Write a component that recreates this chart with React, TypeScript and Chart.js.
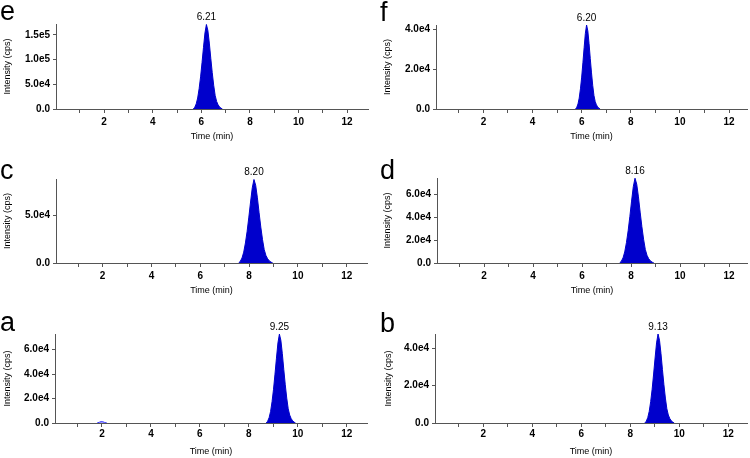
import { useEffect, useRef } from 'react';
import { Chart, registerables } from 'chart.js';

Chart.register(...registerables);

// ---- data ----
const eTime = [5.67, 5.73, 5.79, 5.85, 5.91, 5.97, 6.03, 6.09, 6.15, 6.21, 6.27, 6.33, 6.39, 6.45, 6.51, 6.57, 6.63, 6.69, 6.75, 6.81, 6.87];
const eIntensity = [0, 3400, 10300, 22200, 41000, 65000, 94000, 124800, 153900, 171000, 159000, 133400, 102600, 73500, 47900, 27400, 15400, 8600, 4300, 1700, 0];

const fTime = [5.75, 5.8, 5.85, 5.9, 5.95, 6.0, 6.05, 6.1, 6.15, 6.2, 6.25, 6.3, 6.35, 6.4, 6.45, 6.5, 6.55, 6.6, 6.65, 6.7, 6.75];
const fIntensity = [0, 840, 2520, 5460, 10080, 15960, 23100, 30660, 37800, 42000, 39060, 32760, 25200, 18060, 11760, 6720, 3780, 2100, 1050, 420, 0];

const cTime = [7.57, 7.64, 7.71, 7.78, 7.85, 7.92, 7.99, 8.06, 8.13, 8.2, 8.27, 8.34, 8.41, 8.48, 8.55, 8.62, 8.69, 8.76, 8.83, 8.9, 8.97];
const cIntensity = [0, 1750, 5250, 11400, 21000, 33250, 48100, 63900, 78750, 87500, 81400, 68250, 52500, 37600, 24500, 14000, 7900, 4400, 2200, 900, 0];

const dTime = [7.53, 7.6, 7.67, 7.74, 7.81, 7.88, 7.95, 8.02, 8.09, 8.16, 8.23, 8.3, 8.37, 8.44, 8.51, 8.58, 8.65, 8.72, 8.79, 8.86, 8.93];
const dIntensity = [0, 1480, 4440, 9620, 17760, 28120, 40700, 54020, 66600, 74000, 68820, 57720, 44400, 31820, 20720, 11840, 6660, 3700, 1850, 740, 0];

const aTime = [8.71, 8.77, 8.83, 8.89, 8.95, 9.01, 9.07, 9.13, 9.19, 9.25, 9.31, 9.37, 9.43, 9.49, 9.55, 9.61, 9.67, 9.73, 9.79, 9.85, 9.91];
const aIntensity = [0, 1460, 4370, 9460, 17470, 27660, 40040, 53140, 65520, 72800, 67700, 56780, 43680, 31300, 20380, 11650, 6550, 3640, 1820, 730, 0];
const aMinorTime = [1.8, 1.9, 1.97, 2.03, 2.1, 2.2];
const aMinorIntensity = [0, 700, 1200, 1100, 500, 0];

const bTime = [8.59, 8.65, 8.71, 8.77, 8.83, 8.89, 8.95, 9.01, 9.07, 9.13, 9.19, 9.25, 9.31, 9.37, 9.43, 9.49, 9.55, 9.61, 9.67, 9.73, 9.79];
const bIntensity = [0, 950, 2860, 6200, 11450, 18130, 26240, 34820, 42930, 47700, 44360, 37210, 28620, 20510, 13360, 7630, 4290, 2390, 1190, 480, 0];

const panelLetters = ['e', 'f', 'c', 'd', 'a', 'b'];
const peakLabels = ['6.21', '6.20', '8.20', '8.16', '9.25', '9.13'];
const peakTimes = [6.21, 6.2, 8.2, 8.16, 9.25, 9.13];
const peakHeights = [171000, 42000, 87500, 74000, 72800, 47700];
const yMaxValues = [172000, 42000, 88000, 74200, 72900, 47700];
const yTickValues = [
  [0, 50000, 100000, 150000],
  [0, 20000, 40000],
  [0, 50000],
  [0, 20000, 40000, 60000],
  [0, 20000, 40000, 60000],
  [0, 20000, 40000],
];
const xTickValues = [1, 2, 3, 4, 5, 6, 7, 8, 9, 10, 11, 12];
const xTickLabels = ['', '2', '', '4', '', '6', '', '8', '', '10', '', '12'];

const FONT = '"Liberation Sans", Arial, Helvetica, sans-serif';
const BLUE = '#0000CC';
const AXIS = '#555555';

type Layout = {
  left: number; top: number; width: number; height: number;
  yAxisWidth: number; padTop: number; padRight: number; xAxisHeight: number;
  xMin: number; xMax: number; yTitlePad: number; xTickPad: number; xTitlePad: number;
  letterX: number; letterY: number;
};

const layouts: Layout[] = [
  { left: 0, top: 0, width: 375, height: 153, yAxisWidth: 56, padTop: 24, padRight: 7, xAxisHeight: 44, xMin: 0.02, xMax: 12.86, yTitlePad: 1.9, xTickPad: 3, xTitlePad: 10.6, letterX: 0, letterY: 20 },
  { left: 375, top: 0, width: 375, height: 153, yAxisWidth: 61, padTop: 25, padRight: 3, xAxisHeight: 44, xMin: 0.07, xMax: 12.73, yTitlePad: 7.3, xTickPad: 3, xTitlePad: 10.6, letterX: 5, letterY: 21 },
  { left: 0, top: 153, width: 375, height: 153, yAxisWidth: 56, padTop: 26, padRight: 8, xAxisHeight: 43, xMin: 0.09, xMax: 12.83, yTitlePad: 1.9, xTickPad: 3, xTitlePad: 9.9, letterX: 0, letterY: 26 },
  { left: 375, top: 153, width: 375, height: 153, yAxisWidth: 62, padTop: 25, padRight: 3, xAxisHeight: 43, xMin: 0.08, xMax: 12.73, yTitlePad: 7.3, xTickPad: 3, xTitlePad: 9.9, letterX: 5, letterY: 26 },
  { left: 0, top: 306, width: 375, height: 152, yAxisWidth: 55, padTop: 28, padRight: 8, xAxisHeight: 35, xMin: 0.08, xMax: 12.83, yTitlePad: 1.9, xTickPad: 1, xTitlePad: 0.9, letterX: 0, letterY: 25 },
  { left: 375, top: 306, width: 375, height: 152, yAxisWidth: 60, padTop: 28, padRight: 3, xAxisHeight: 35, xMin: 0.03, xMax: 12.76, yTitlePad: 7.9, xTickPad: 1, xTitlePad: 0.9, letterX: 5, letterY: 26 },
];

const series: { time: number[]; intensity: number[] }[][] = [
  [{ time: eTime, intensity: eIntensity }],
  [{ time: fTime, intensity: fIntensity }],
  [{ time: cTime, intensity: cIntensity }],
  [{ time: dTime, intensity: dIntensity }],
  [{ time: aTime, intensity: aIntensity }, { time: aMinorTime, intensity: aMinorIntensity }],
  [{ time: bTime, intensity: bIntensity }],
];

const textPlugin = {
  id: 'panelText',
  afterDraw(chart: any, _args: any, opts: any) {
    const { ctx } = chart;
    ctx.save();
    ctx.fillStyle = '#000';
    ctx.textBaseline = 'alphabetic';
    ctx.textAlign = 'left';
    ctx.font = `27px ${FONT}`;
    ctx.fillText(opts.letter, opts.letterX, opts.letterY);
    const xs = chart.scales.x;
    const ys = chart.scales.y;
    ctx.font = `10px ${FONT}`;
    ctx.textAlign = 'center';
    ctx.fillText(opts.peakLabel, xs.getPixelForValue(opts.peakTime), ys.getPixelForValue(opts.peakHeight) - 4);
    ctx.restore();
  },
};

function fmtY(v: number) {
  if (v === 0) return '0.0';
  return v.toExponential(1).replace('e+', 'e');
}

function Panel({ index }: { index: number }) {
  const ref = useRef<HTMLCanvasElement | null>(null);
  const L = layouts[index];
  useEffect(() => {
    if (!ref.current) return;
    const datasets = series[index].map((s, i) => ({
      data: s.time.map((t, j) => ({ x: t, y: s.intensity[j] })),
      borderColor: i === 0 ? BLUE : '#3a3aff',
      backgroundColor: i === 0 ? BLUE : 'rgba(90,90,255,0.6)',
      borderWidth: 1,
      pointRadius: 0,
      tension: 0,
      fill: 'origin',
    }));
    const chart = new Chart(ref.current, {
      type: 'line',
      data: { datasets },
      plugins: [textPlugin],
      options: {
        animation: false,
        responsive: false,
        devicePixelRatio: 1,
        layout: { padding: { left: 0, top: L.padTop, right: L.padRight, bottom: 0 } },
        plugins: {
          legend: { display: false },
          tooltip: { enabled: false },
          panelText: {
            letter: panelLetters[index],
            letterX: L.letterX,
            letterY: L.letterY,
            peakLabel: peakLabels[index],
            peakTime: peakTimes[index],
            peakHeight: peakHeights[index],
          },
        } as any,
        scales: {
          x: {
            type: 'linear',
            min: L.xMin,
            max: L.xMax,
            afterFit: (s: any) => { s.height = L.xAxisHeight; },
            afterBuildTicks: (s: any) => { s.ticks = xTickValues.map((v) => ({ value: v })); },
            border: { color: AXIS, width: 1 },
            grid: { display: true, drawOnChartArea: false, drawTicks: true, tickLength: 4, color: AXIS },
            ticks: {
              autoSkip: false,
              maxRotation: 0,
              padding: L.xTickPad,
              color: '#000',
              font: { family: FONT, size: 10, weight: 'bold' },
              callback: (_v: any, i: number) => xTickLabels[i],
            },
            title: {
              display: true,
              text: 'Time (min)',
              color: '#000',
              font: { family: FONT, size: 9 },
              padding: { top: 0, bottom: L.xTitlePad },
            },
          },
          y: {
            type: 'linear',
            min: 0,
            max: yMaxValues[index],
            afterFit: (s: any) => { s.width = L.yAxisWidth; },
            afterBuildTicks: (s: any) => { s.ticks = yTickValues[index].map((v) => ({ value: v })); },
            border: { color: AXIS, width: 1 },
            grid: { display: true, drawOnChartArea: false, drawTicks: true, tickLength: 3, color: AXIS },
            ticks: {
              autoSkip: false,
              padding: 3,
              color: '#000',
              font: { family: FONT, size: 10, weight: 'bold' },
              callback: (v: any) => fmtY(Number(v)),
            },
            title: {
              display: true,
              text: 'Intensity (cps)',
              color: '#000',
              font: { family: FONT, size: 9 },
              padding: { top: L.yTitlePad, bottom: 0 },
            },
          },
        },
      } as any,
    });
    return () => chart.destroy();
  }, [index]);
  return (
    <canvas
      ref={ref}
      width={L.width}
      height={L.height}
      style={{ position: 'absolute', left: L.left, top: L.top, width: L.width, height: L.height }}
    />
  );
}

export default function App() {
  return (
    <div style={{ position: 'fixed', left: 0, top: 0, width: 750, height: 458, background: '#fff' }}>
      {layouts.map((_, i) => (
        <Panel key={i} index={i} />
      ))}
    </div>
  );
}
